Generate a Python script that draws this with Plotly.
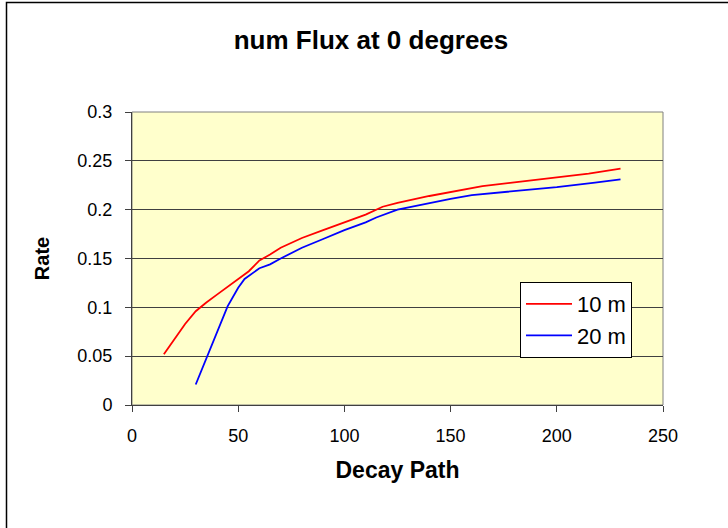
import plotly.graph_objects as go

# Data
path_10m = [15, 20, 25, 30, 35, 40, 45, 50, 55, 60, 65, 70, 80, 90, 100, 110, 118, 125, 140, 150, 165, 180, 200, 215, 230]
rate_10m = [0.052, 0.068, 0.083, 0.096, 0.105, 0.113, 0.121, 0.129, 0.137, 0.148, 0.154, 0.161, 0.171, 0.179, 0.187,
            0.195, 0.203, 0.207, 0.214, 0.218, 0.224, 0.228, 0.233, 0.237, 0.242]

path_20m = [30, 35, 40, 45, 50, 53, 60, 65, 70, 80, 90, 100, 110, 115, 125, 140, 150, 160, 170, 185, 200, 218, 230]
rate_20m = [0.021, 0.048, 0.075, 0.101, 0.120, 0.129, 0.140, 0.144, 0.150, 0.161, 0.170, 0.179, 0.187, 0.192, 0.200,
            0.207, 0.211, 0.215, 0.217, 0.220, 0.223, 0.2276, 0.231]

series_names = ["10 m", "20 m"]
x_ticks = [0, 50, 100, 150, 200, 250]
y_ticks = [0, 0.05, 0.1, 0.15, 0.2, 0.25, 0.3]
y_tick_labels = ["0", "0.05", "0.1", "0.15", "0.2", "0.25", "0.3"]

FONT = "Liberation Sans, Arial, sans-serif"

fig = go.Figure()
fig.add_trace(go.Scatter(x=path_10m, y=rate_10m, mode="lines", name=series_names[0], legendgroup="a",
                         line=dict(color="#FF0000", width=1.8)))
fig.add_trace(go.Scatter(x=path_20m, y=rate_20m, mode="lines", name=series_names[1], legendgroup="b",
                         line=dict(color="#0000FF", width=1.8)))

W, H = 728, 528
L, R, T, B = 132, 65, 112, 123
pw, ph = W - L - R, H - T - B

def px_x(p):
    return (p - L) / pw

def px_y(p):
    return (H - B - p) / ph

fig.update_layout(
    width=W, height=H,
    margin=dict(l=L, r=R, t=T, b=B, pad=0),
    paper_bgcolor="white",
    plot_bgcolor="#FFFFCC",
    font=dict(family=FONT, color="black", size=17),
    title=dict(text="<b>num Flux at 0 degrees</b>", x=px_x(371), xanchor="center",
               y=1 - 40 / H, yanchor="middle", xref="paper",
               font=dict(family=FONT, size=26, color="black")),
    showlegend=True,
    legend=dict(x=px_x(520), y=px_y(282), xanchor="left", yanchor="top",
                bgcolor="white", bordercolor="black", borderwidth=1,
                font=dict(family=FONT, size=22, color="black"),
                itemwidth=46, tracegroupgap=0),
    xaxis=dict(range=[0, 250], tickvals=x_ticks, ticks="outside", ticklen=6,
               tickcolor="#404040", showline=True, linecolor="#404040", linewidth=1,
               showgrid=False, zeroline=False, ticklabelstandoff=8,
               tickfont=dict(family=FONT, size=18, color="black"),
               title=dict(text="<b>Decay Path</b>", standoff=17,
                          font=dict(family=FONT, size=23, color="black"))),
    yaxis=dict(range=[0, 0.3], tickvals=y_ticks, ticktext=y_tick_labels, ticks="outside",
               ticklen=6, tickcolor="#404040", showline=True, linecolor="#404040", linewidth=1,
               showgrid=True, gridcolor="#404040", gridwidth=1, zeroline=False,
               ticklabelstandoff=9,
               tickfont=dict(family=FONT, size=18, color="black"),
               title=dict(text="<b>Rate</b>", standoff=22,
                          font=dict(family=FONT, size=20, color="black"))),
    shapes=[
        dict(type="rect", xref="paper", yref="paper", x0=0, x1=1, y0=0, y1=1,
             line=dict(color="#808080", width=1), layer="below"),
        dict(type="rect", xref="paper", yref="paper",
             x0=px_x(6.5), x1=px_x(W + 20), y0=px_y(H + 20), y1=px_y(2.5),
             line=dict(color="black", width=1.5), fillcolor="rgba(0,0,0,0)"),
    ],
)

fig.write_html("out.html", config={"displayModeBar": False},
               post_script="document.body.style.margin='0px';")
